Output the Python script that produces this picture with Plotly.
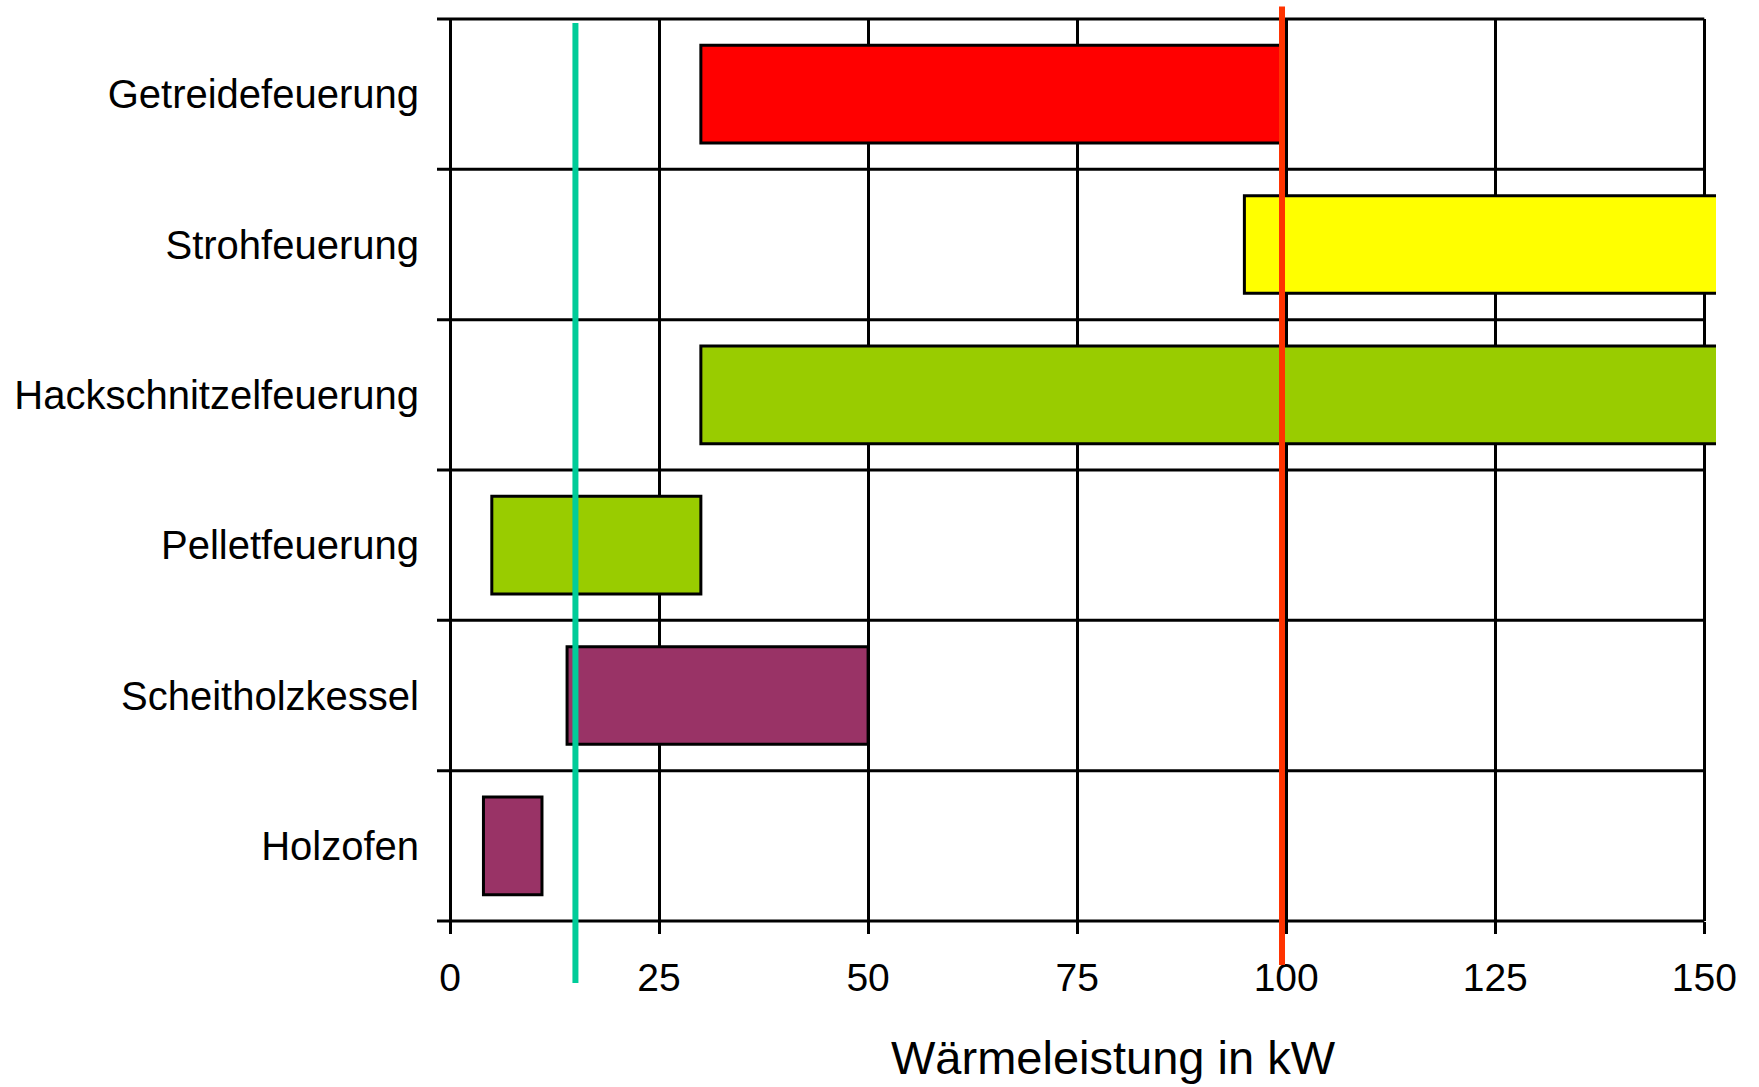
import plotly.graph_objects as go

# Heating system types, top to bottom
categories = [
    "Getreidefeuerung",
    "Strohfeuerung",
    "Hackschnitzelfeuerung",
    "Pelletfeuerung",
    "Scheitholzkessel",
    "Holzofen",
]
# Power range of each system in kW (lower and upper bound)
range_low = [30, 95, 30, 5, 14, 4]
range_high = [100, 200, 200, 30, 50, 11]
bar_colors = ["#FF0000", "#FFFF00", "#99CC00", "#99CC00", "#993366", "#993366"]

# Vertical marker lines (kW)
marker_green = 15
marker_red = 99.5

x_ticks = [0, 25, 50, 75, 100, 125, 150]
x_title = "Wärmeleistung in kW"

X_MAX = 151.4
W, H = 1759, 1087
M_L, M_R, M_T, M_B = 450, 43, 19, 166
plot_w = W - M_L - M_R
plot_h = H - M_T - M_B

fig = go.Figure()
fig.add_trace(go.Bar(
    y=categories,
    x=[h - l for l, h in zip(range_low, range_high)],
    base=range_low,
    orientation="h",
    width=0.65,
    marker=dict(color=bar_colors, line=dict(color="black", width=3)),
    hoverinfo="skip",
))

shapes = []
# horizontal category separators with small tick stubs on the left
n = len(categories)
for k in range(n + 1):
    shapes.append(dict(
        type="line", xref="paper", yref="paper",
        x0=-13 / plot_w, x1=x_ticks[-1] / X_MAX,
        y0=k / n, y1=k / n,
        line=dict(color="black", width=3),
    ))
# green and red marker lines reaching past the plot area
shapes.append(dict(
    type="line", xref="x", yref="paper",
    x0=marker_green, x1=marker_green,
    y0=-(983 - (M_T + plot_h)) / plot_h, y1=1 - (23 - M_T) / plot_h,
    line=dict(color="#00CC99", width=6),
))
shapes.append(dict(
    type="line", xref="x", yref="paper",
    x0=marker_red, x1=marker_red,
    y0=-(965 - (M_T + plot_h)) / plot_h, y1=1 + (M_T - 6.5) / plot_h,
    line=dict(color="#FF3300", width=6),
))

fig.update_layout(
    width=W, height=H,
    margin=dict(l=M_L, r=M_R, t=M_T, b=M_B, pad=0),
    paper_bgcolor="white",
    plot_bgcolor="white",
    showlegend=False,
    shapes=shapes,
    font=dict(family="Liberation Sans, Arial, sans-serif", color="black"),
    annotations=[dict(
        text=x_title, xref="paper", yref="paper",
        x=(1113 - M_L) / plot_w, y=-(1057 - (M_T + plot_h)) / plot_h,
        xanchor="center", yanchor="middle", showarrow=False,
        font=dict(size=47, color="black"),
    )],
)
fig.update_xaxes(
    range=[0, X_MAX],
    tickvals=x_ticks,
    ticktext=[str(v) for v in x_ticks],
    showgrid=True, gridcolor="black", gridwidth=3,
    zeroline=True, zerolinecolor="black", zerolinewidth=3,
    showline=False,
    ticks="outside", ticklen=12, tickwidth=3, tickcolor="black",
    tickfont=dict(size=39, color="black"),
    ticklabelstandoff=10,
)
fig.update_yaxes(
    categoryorder="array", categoryarray=categories,
    range=[n - 0.5, -0.5],
    showgrid=False, zeroline=False, showline=False,
    ticks="", tickfont=dict(size=40, color="black"),
    ticklabelstandoff=30,
)

fig.write_html("out.html")
